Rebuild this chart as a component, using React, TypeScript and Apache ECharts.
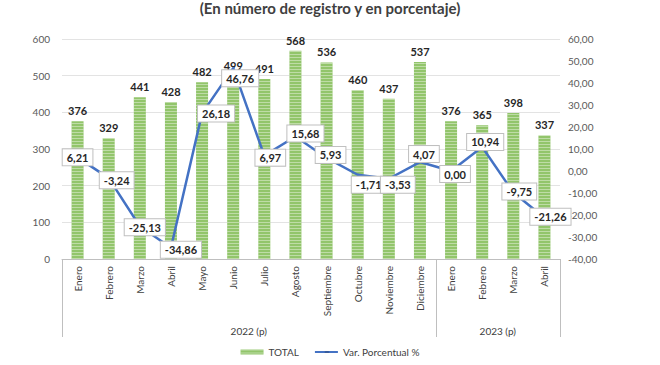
import React, { useEffect, useRef } from "react";
import * as echarts from "echarts";

const months = ["Enero", "Febrero", "Marzo", "Abril", "Mayo", "Junio", "Julio", "Agosto", "Septiembre", "Octubre", "Noviembre", "Diciembre", "Enero", "Febrero", "Marzo", "Abril"];
const groups = [
  { label: "2022 (p)", count: 12 },
  { label: "2023 (p)", count: 4 },
];
const totals = [376, 329, 441, 428, 482, 499, 491, 568, 536, 460, 437, 537, 376, 365, 398, 337];
const variation = [6.21, -3.24, -25.13, -34.86, 26.18, 46.76, 6.97, 15.68, 5.93, -1.71, -3.53, 4.07, 0.0, 10.94, -9.75, -21.26];
const lineLabelOffsets = [
  [0, 0], [8, 2], [5, 1], [10, 2], [14, 0], [7, 10], [6, 2], [10, -3],
  [4, -3], [11, 10], [9, 6], [4, -8], [4, 3], [3, -5], [6, -1], [6, -1],
];
const title = "(En número de registro y en porcentaje)";
const font = "Lato, 'Liberation Sans', sans-serif";

const fmt = (v: number) => v.toFixed(2).replace(".", ",");

export default function App() {
  const ref = useRef<HTMLDivElement>(null);
  useEffect(() => {
    if (!ref.current) return;
    const chart = echarts.init(ref.current, null, { renderer: "svg" });
    const option: any = {
      animation: false,
      backgroundColor: "#ffffff",
      textStyle: { fontFamily: font },
      aria: { enabled: true, decal: { show: true } },
      title: {
        text: title,
        left: "center",
        top: -5,
        textStyle: { fontFamily: font, fontSize: 15, fontWeight: "bold", color: "#404040" },
      },
      grid: { left: 62, right: 100, top: 39, bottom: 106, containLabel: false },
      legend: {
        bottom: 3,
        left: "center",
        itemWidth: 23,
        itemHeight: 5,
        itemGap: 16,
        textStyle: { fontFamily: font, fontSize: 10, color: "#404040" },
        data: [
          { name: "TOTAL", icon: "rect" },
          { name: "Var. Porcentual %", icon: "path://M0,0H28V2.5H0Z" },
        ],
      },
      xAxis: {
        type: "category",
        data: months,
        axisLine: { lineStyle: { color: "#bfbfbf", width: 1 } },
        axisTick: { show: false },
        axisLabel: {
          rotate: 90,
          interval: 0,
          fontSize: 10,
          color: "#404040",
          margin: 7,
          fontFamily: font,
        },
      },
      yAxis: [
        {
          type: "value",
          min: 0,
          max: 600,
          interval: 100,
          axisLine: { show: false },
          axisTick: { show: false },
          axisLabel: { fontSize: 10, color: "#595959", margin: 12, fontFamily: font },
          splitLine: { lineStyle: { color: "#e3e3e3", width: 1 } },
        },
        {
          type: "value",
          min: -40,
          max: 60,
          interval: 10,
          axisLine: { show: false },
          axisTick: { show: false },
          splitLine: { show: false },
          axisLabel: { fontSize: 10, color: "#595959", margin: 8, fontFamily: font, formatter: (v: number) => fmt(v) },
        },
      ],
      series: [
        {
          name: "TOTAL",
          type: "bar",
          data: totals,
          barWidth: 12,
          itemStyle: {
            color: "#92c56b",
            decal: {
              symbol: "rect",
              symbolSize: 1,
              dashArrayX: [[1, 0]],
              dashArrayY: [1, 2],
              rotation: 0,
              color: "rgba(255,255,255,0.4)",
            },
          },
          label: {
            show: true,
            position: "top",
            distance: 5,
            fontSize: 11,
            fontWeight: "bold",
            color: "#262626",
            fontFamily: font,
          },
        },
        {
          name: "Var. Porcentual %",
          type: "line",
          yAxisIndex: 1,
          symbol: "circle",
          symbolSize: 2,
          z: 5,
          lineStyle: { color: "#4472c4", width: 2.5 },
          itemStyle: { color: "#4472c4" },
          data: variation.map((v, i) => ({
            value: v,
            label: { offset: lineLabelOffsets[i] },
          })),
          label: {
            show: true,
            position: "inside",
            formatter: (p: any) => fmt(p.value),
            fontSize: 11,
            fontWeight: "bold",
            color: "#262626",
            fontFamily: font,
            backgroundColor: "#ffffff",
            borderColor: "#bfbfbf",
            borderWidth: 1,
            padding: [3, 4, 2, 4],
          },
        },
      ],
    };
    chart.setOption(option);

    const c0 = chart.convertToPixel({ xAxisIndex: 0 }, 0) as number;
    const c1 = chart.convertToPixel({ xAxisIndex: 0 }, 1) as number;
    const step = c1 - c0;
    const yAxis = chart.convertToPixel({ yAxisIndex: 0 }, 0) as number;
    const lineBottom = yAxis + 78;
    const elements: any[] = [];
    let start = 0;
    const bounds = [start];
    groups.forEach((g) => {
      const xs = c0 - step / 2 + start * step;
      const xe = c0 - step / 2 + (start + g.count) * step;
      elements.push({
        type: "text",
        x: (xs + xe) / 2,
        y: yAxis + 72,
        style: { text: g.label, fontSize: 10, fill: "#404040", fontFamily: font, align: "center", verticalAlign: "middle" },
      });
      start += g.count;
      bounds.push(start);
    });
    bounds.forEach((b) => {
      const x = Math.round(c0 - step / 2 + b * step) + 0.5;
      elements.push({
        type: "line",
        shape: { x1: x, y1: yAxis, x2: x, y2: lineBottom },
        style: { stroke: "#bfbfbf", lineWidth: 1 },
      });
    });
    chart.setOption({ graphic: elements });

    return () => chart.dispose();
  }, []);
  return <div ref={ref} style={{ position: "fixed", left: 0, top: 0, width: 660, height: 365 }} />;
}
